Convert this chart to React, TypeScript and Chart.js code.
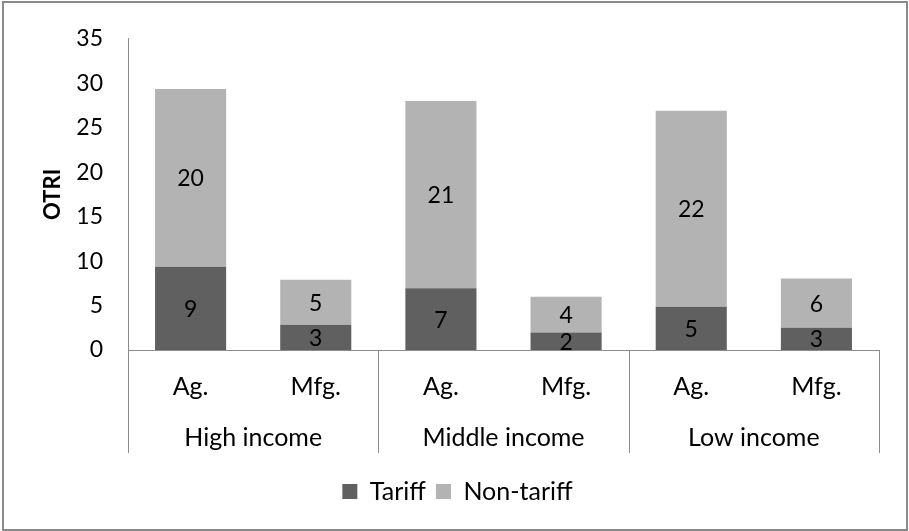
import React, { useEffect, useRef } from "react";
import { Chart, registerables } from "chart.js";

Chart.register(...registerables);

const subCategories = ["Ag.", "Mfg.", "Ag.", "Mfg.", "Ag.", "Mfg."];
const groupLabels = ["High income", "Middle income", "Low income"];
const tariff = [9.35, 2.85, 6.95, 1.97, 4.86, 2.5];
const nonTariff = [20.0, 5.05, 21.05, 4.03, 22.05, 5.55];
const yTicks = [0, 5, 10, 15, 20, 25, 30, 35];

const FONT = "Lato";
const FS = 23;
const FS_TEXT = 25;
const AXIS_COLOR = "#8c8c8c";

const decorPlugin = {
  id: "decor",
  afterDraw(chart: any) {
    const ctx = chart.ctx;
    const area = chart.chartArea;
    const xs = chart.scales.x;
    ctx.save();
    // outer border
    ctx.strokeStyle = "#8a8a8a";
    ctx.lineWidth = 2;
    ctx.strokeRect(3, 2, 904, 528);

    // data labels
    ctx.fillStyle = "#000";
    ctx.font = `${FS}px ${FONT}`;
    ctx.textAlign = "center";
    ctx.textBaseline = "middle";
    chart.data.datasets.forEach((ds: any, di: number) => {
      const meta = chart.getDatasetMeta(di);
      meta.data.forEach((bar: any, i: number) => {
        const v = ds.data[i];
        const cy = (bar.y + bar.base) / 2;
        ctx.fillText(String(Math.round(v)), bar.x, cy + 1);
      });
    });

    // category axis: sub labels
    ctx.font = `${FS_TEXT}px ${FONT}`;
    const n = subCategories.length;
    subCategories.forEach((lab, i) => {
      ctx.fillText(lab, xs.getPixelForValue(i), area.bottom + 37);
    });
    // group labels and separators
    const per = n / groupLabels.length;
    const boundary = (k: number) => {
      if (k <= 0) return area.left;
      if (k >= n) return area.right;
      return (xs.getPixelForValue(k - 1) + xs.getPixelForValue(k)) / 2;
    };
    groupLabels.forEach((g, gi) => {
      const a = boundary(gi * per);
      const b = boundary((gi + 1) * per);
      ctx.fillText(g, (a + b) / 2, area.bottom + 88);
    });
    ctx.strokeStyle = AXIS_COLOR;
    ctx.lineWidth = 1;
    for (let gi = 0; gi <= groupLabels.length; gi++) {
      const x = Math.round(boundary(gi * per)) + 0.5;
      ctx.beginPath();
      ctx.moveTo(x, area.bottom);
      ctx.lineTo(x, area.bottom + 103);
      ctx.stroke();
    }
    ctx.restore();
  },
};

export default function App() {
  const ref = useRef<HTMLCanvasElement | null>(null);
  useEffect(() => {
    if (!ref.current) return;
    const chart = new Chart(ref.current, {
      type: "bar",
      data: {
        labels: subCategories,
        datasets: [
          {
            label: "Tariff",
            data: tariff,
            backgroundColor: "#606060",
            barPercentage: 0.568,
            categoryPercentage: 1,
          },
          {
            label: "Non-tariff",
            data: nonTariff,
            backgroundColor: "#b3b3b3",
            barPercentage: 0.568,
            categoryPercentage: 1,
          },
        ],
      },
      options: {
        responsive: false,
        animation: false,
        devicePixelRatio: 1,
        layout: { padding: { left: 36, right: 30, top: 31, bottom: 17 } },
        plugins: {
          tooltip: { enabled: false },
          legend: {
            position: "bottom",
            labels: {
              boxWidth: 15,
              boxHeight: 15,
              color: "#000",
              font: { family: FONT, size: FS_TEXT },
              padding: 10,
            },
          },
        },
        scales: {
          x: {
            stacked: true,
            ticks: { display: false },
            grid: { display: false, drawTicks: false },
            border: { display: true, color: AXIS_COLOR, width: 1 },
            afterFit: (s: any) => {
              s.height = 119;
            },
          },
          y: {
            stacked: true,
            min: 0,
            max: 35,
            afterBuildTicks: (s: any) => {
              s.ticks = yTicks.map((v) => ({ value: v }));
            },
            ticks: {
              color: "#000",
              font: { family: FONT, size: FS },
              padding: 25,
            },
            grid: { display: false, drawTicks: false },
            border: { display: true, color: AXIS_COLOR, width: 1 },
            title: {
              display: true,
              text: "OTRI",
              color: "#000",
              font: { family: FONT, size: 22, weight: "bold" },
              padding: { top: 4, bottom: 0 },
            },
            afterFit: (s: any) => {
              s.width = 92;
            },
          },
        },
      },
      plugins: [decorPlugin],
    });
    return () => chart.destroy();
  }, []);
  return (
    <div style={{ position: "fixed", left: 0, top: 0, width: 909, height: 531, background: "#fff" }}>
      <canvas ref={ref} width={909} height={531} style={{ display: "block" }} />
    </div>
  );
}
